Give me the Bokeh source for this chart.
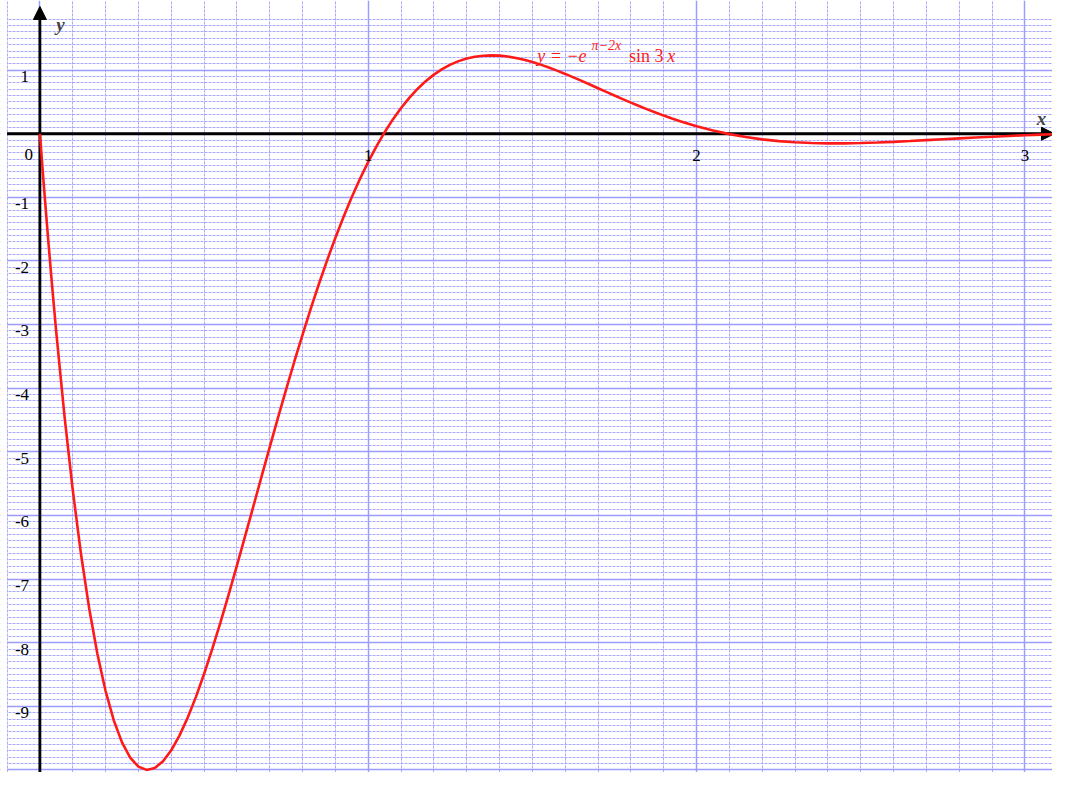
from bokeh.plotting import figure
from bokeh.models import Range1d, SingleIntervalTicker, Arrow, NormalHead, Label, BoxAnnotation, ColumnDataSource
from bokeh.core.properties import value
from bokeh.embed import file_html
from bokeh.resources import INLINE

# ---- data ----
curve_x = [0, 0.0125, 0.025, 0.0375, 0.05, 0.075, 0.1, 0.125, 0.15, 0.175, 0.2, 0.225, 0.25,
           0.275, 0.3, 0.325, 0.35, 0.375, 0.4, 0.425, 0.45, 0.475, 0.5, 0.525, 0.55, 0.575,
           0.6, 0.625, 0.65, 0.675, 0.7, 0.725, 0.75, 0.775, 0.8, 0.825, 0.85, 0.875, 0.9,
           0.925, 0.95, 0.975, 1.0, 1.025, 1.05, 1.075, 1.1, 1.125, 1.15, 1.175, 1.2, 1.225,
           1.25, 1.275, 1.3, 1.325, 1.35, 1.375, 1.4, 1.425, 1.45, 1.475, 1.5, 1.525, 1.55,
           1.575, 1.6, 1.625, 1.65, 1.675, 1.7, 1.725, 1.75, 1.775, 1.8, 1.825, 1.85, 1.875,
           1.9, 1.925, 1.95, 1.975, 2.0, 2.05, 2.1, 2.15, 2.2, 2.25, 2.3, 2.35, 2.4, 2.45,
           2.5, 2.55, 2.6, 2.65, 2.7, 2.75, 2.8, 2.85, 2.9, 2.95, 3.0, 3.05, 3.1]
curve_y = [0, -0.846, -1.649, -2.410, -3.129, -4.444, -5.599, -6.601, -7.457, -8.173, -8.759,
           -9.220, -9.567, -9.807, -9.948, -9.999, -9.968, -9.863, -9.691, -9.461, -9.180,
           -8.855, -8.492, -8.098, -7.679, -7.240, -6.788, -6.326, -5.859, -5.391, -4.926,
           -4.467, -4.018, -3.580, -3.156, -2.748, -2.358, -1.986, -1.635, -1.304, -0.995,
           -0.708, -0.442, -0.198, 0.024, 0.225, 0.405, 0.564, 0.704, 0.826, 0.929, 1.015,
           1.086, 1.141, 1.182, 1.210, 1.226, 1.231, 1.227, 1.213, 1.190, 1.162, 1.126,
           1.086, 1.041, 0.992, 0.940, 0.886, 0.830, 0.773, 0.715, 0.657, 0.600, 0.544,
           0.489, 0.435, 0.383, 0.333, 0.285, 0.240, 0.197, 0.156, 0.118, 0.051, -0.006,
           -0.052, -0.089, -0.116, -0.135, -0.146, -0.151, -0.151, -0.146, -0.138, -0.128,
           -0.115, -0.101, -0.087, -0.073, -0.059, -0.047, -0.035, -0.024, -0.014, -0.006]

x_ticks = [1, 2, 3]
x_tick_labels = ["1", "2", "3"]
y_ticks = [1, -1, -2, -3, -4, -5, -6, -7, -8, -9]
y_tick_labels = ["1", "-1", "-2", "-3", "-4", "-5", "-6", "-7", "-8", "-9"]

SERIF = "Liberation Serif"
RED = "#ff1a1a"

p = figure(width=1052, height=772,
           x_range=Range1d(-0.12, 3.084), y_range=Range1d(-10.04, 2.094),
           output_backend="svg", toolbar_location=None,
           x_axis_location=None, y_axis_location=None, min_border=0)
p.outline_line_color = None
p.background_fill_color = "white"

# grids: solid at integers, dotted every 0.1
for g in (p.xgrid, p.ygrid):
    g.ticker = SingleIntervalTicker(interval=1, num_minor_ticks=10)
    g.grid_line_color = "#9c9cff"
    g.grid_line_width = 1.5
    g.minor_grid_line_color = "#a8a8ff"
    g.minor_grid_line_width = 1
    g.minor_grid_line_dash = "3 1"
p.ygrid.bounds = (-10.04, 1.85)
p.xgrid.bounds = (-0.1, 3.2)

# white band at the very left
p.add_layout(BoxAnnotation(right=-0.1, fill_color="white", fill_alpha=1.0,
                           line_alpha=0, level="underlay"))

# axes with arrowheads
p.add_layout(Arrow(x_start=-0.1, y_start=0, x_end=3.09, y_end=0,
                   line_color="black", line_width=2.8, level="underlay",
                   end=NormalHead(size=13, fill_color="black", line_color="black")))
p.add_layout(Arrow(x_start=0, y_start=-10.2, x_end=0, y_end=2.0,
                   line_color="black", line_width=2.8, level="underlay",
                   end=NormalHead(size=13, fill_color="black", line_color="black")))

# curve
p.line(curve_x, curve_y, line_color=RED, line_width=2.6)

# tick labels
xs = ColumnDataSource(dict(x=x_ticks, y=[-0.339] * len(x_ticks), t=x_tick_labels))
p.text(x="x", y="y", text="t", source=xs, text_align="center", text_baseline="alphabetic",
       text_font=value(SERIF), text_font_size="17px", text_color="#000000")
ys = ColumnDataSource(dict(x=[-0.033] * len(y_ticks), y=[v - 0.1 for v in y_ticks], t=y_tick_labels))
p.text(x="x", y="y", text="t", source=ys, text_align="right", text_baseline="alphabetic",
       text_font=value(SERIF), text_font_size="17px", text_color="#000000")
p.add_layout(Label(x=-0.021, y=-0.323, text="0", text_align="right", text_baseline="alphabetic",
                   text_font=SERIF, text_font_size="17px", text_color="#000000"))

# axis names
p.add_layout(Label(x=0.05, y=1.724, text="y", text_font=SERIF, text_font_style="bold italic",
                   text_font_size="19px", text_baseline="alphabetic"))
p.add_layout(Label(x=3.036, y=0.246, text="x", text_font=SERIF, text_font_style="bold italic",
                   text_font_size="19px", text_baseline="alphabetic"))

# formula  y = -e^(pi-2x) sin 3x
base_y = 1.221
sup_y = 1.390
pieces = [
    (1.515, base_y, "y = \u2212e", "italic", "18px"),
    (1.680, sup_y, "\u03c0\u22122x", "italic", "14px"),
    (1.794, base_y, "sin 3", "normal", "18px"),
    (1.911, base_y, "x", "italic", "18px"),
]
for (lx, ly, t, st, fs) in pieces:
    p.add_layout(Label(x=lx, y=ly, text=t, text_font=SERIF, text_font_style=st,
                       text_font_size=fs, text_color=RED, text_baseline="alphabetic"))

open("out.html", "w").write(file_html(p, INLINE))
